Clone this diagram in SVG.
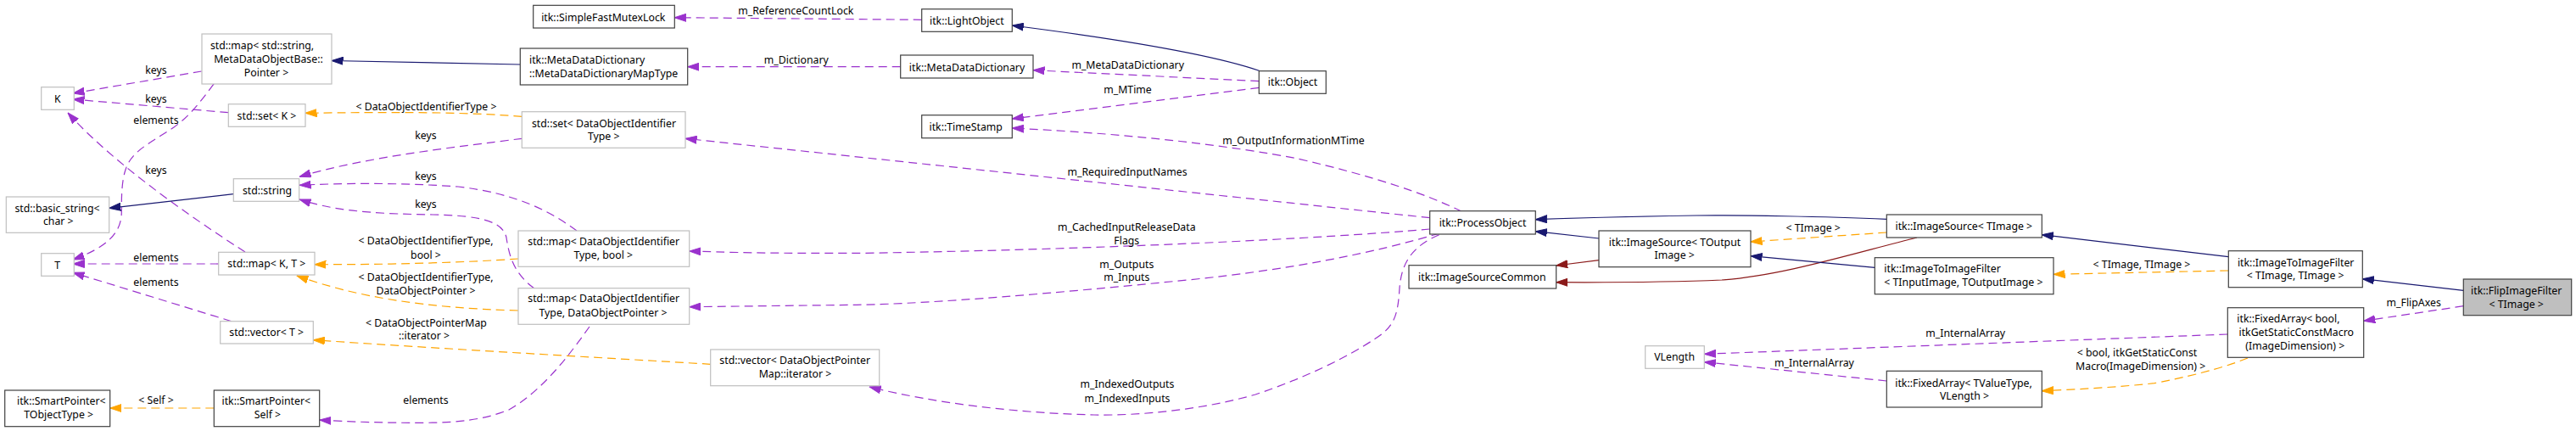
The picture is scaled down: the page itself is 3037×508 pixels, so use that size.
<svg xmlns="http://www.w3.org/2000/svg" width="3037" height="508" viewBox="0 0 3037 508">
<style>
text{font-family:"Noto Sans","DejaVu Sans",sans-serif;font-size:12.3px;fill:#000}
.c{text-anchor:middle}
.l{text-anchor:start}
.g{fill:#fff;stroke:#bfbfbf;stroke-width:1.2}
.d{fill:#fff;stroke:#404040;stroke-width:1.2}
.f{fill:#bfbfbf;stroke:#404040;stroke-width:1.2}
.e{fill:none;stroke-width:1.2}
.inh{stroke:#191970;marker-end:url(#aB)}
.red{stroke:#8b1a1a;marker-end:url(#aR)}
.use{stroke:#9a32cd;stroke-dasharray:10,6;marker-end:url(#aP)}
.tpl{stroke:#ffa500;stroke-dasharray:10,6;marker-end:url(#aO)}
</style>
<defs>
<marker id="aB" markerUnits="userSpaceOnUse" viewBox="0 0 14 10" markerWidth="14" markerHeight="10" refX="13.5" refY="5" orient="auto"><path d="M0,0.5 L13.5,5 L0,9.5 z" fill="#191970" stroke="#191970"/></marker>
<marker id="aR" markerUnits="userSpaceOnUse" viewBox="0 0 14 10" markerWidth="14" markerHeight="10" refX="13.5" refY="5" orient="auto"><path d="M0,0.5 L13.5,5 L0,9.5 z" fill="#8b1a1a" stroke="#8b1a1a"/></marker>
<marker id="aP" markerUnits="userSpaceOnUse" viewBox="0 0 14 10" markerWidth="14" markerHeight="10" refX="13.5" refY="5" orient="auto"><path d="M0,0.5 L13.5,5 L0,9.5 z" fill="#9a32cd" stroke="#9a32cd"/></marker>
<marker id="aO" markerUnits="userSpaceOnUse" viewBox="0 0 14 10" markerWidth="14" markerHeight="10" refX="13.5" refY="5" orient="auto"><path d="M0,0.5 L13.5,5 L0,9.5 z" fill="#ffa500" stroke="#ffa500"/></marker>
</defs>
<rect width="3037" height="508" fill="#fff"/>

<g id="edges">
<path class="e inh" d="M613,76 L391,71.5"/>
<path class="e use" d="M237.7,84 L86,110"/>
<text class="c" x="184" y="87">keys</text>
<path class="e use" d="M269.3,132.7 L86,117"/>
<text class="c" x="184" y="120.5">keys</text>
<path class="e use" d="M252.3,98.7 C235,122 222,138 205,150 C175,170 155,178 148,200 C143,215 143.3,235 143.3,250 C143.3,275 125,292 86,306"/>
<text class="c" x="184" y="145.5">elements</text>
<path class="e use" d="M289,297 C250,272 140,200 80,133"/>
<text class="c" x="184" y="204.5">keys</text>
<path class="e use" d="M257.7,311 L86,311"/>
<text class="c" x="184" y="307.8">elements</text>
<path class="e use" d="M273,378.7 L86,321.3"/>
<text class="c" x="184" y="336.8">elements</text>
<path class="e inh" d="M275.3,228.7 L128.7,245.3"/>
<path class="e tpl" d="M615.3,137.3 C560,133 500,131.5 360,133.3"/>
<text class="c" x="502.5" y="129.5">&lt; DataObjectIdentifierType &gt;</text>
<path class="e use" d="M615.3,163.3 C540,173 430,185 353,208.3"/>
<text class="c" x="502" y="163.8">keys</text>
<path class="e use" d="M680,272 C650,250 610,228 540,220 C470,215 400,216 353,218.3"/>
<text class="c" x="502" y="211.8">keys</text>
<path class="e use" d="M630,340 C605,322 600,300 597,280 C593,262 570,254 510,253 C430,252 390,247 353,235"/>
<text class="c" x="502" y="244.5">keys</text>
<path class="e tpl" d="M611,305 C540,310 450,312 371,311.7"/>
<text class="c" x="502" y="287.8">&lt; DataObjectIdentifierType,</text>
<text class="c" x="502" y="304.5">bool &gt;</text>
<path class="e tpl" d="M611,366 C500,363 420,350 350,325"/>
<text class="c" x="502" y="331.2">&lt; DataObjectIdentifierType,</text>
<text class="c" x="502" y="347.2">DataObjectPointer &gt;</text>
<path class="e tpl" d="M837.7,429.3 C700,421 520,411 369.3,400.7"/>
<text class="c" x="502.5" y="384.5">&lt; DataObjectPointerMap</text>
<text class="c" x="500" y="400.2">::iterator &gt;</text>
<path class="e tpl" d="M252.3,481 L129.7,481"/>
<text class="c" x="184" y="476.2">&lt; Self &gt;</text>
<path class="e use" d="M695,385 C670,420 640,460 600,483 C570,495 540,498 500,498.3 C450,498.5 410,497 376.7,495"/>
<text class="c" x="502" y="476.2">elements</text>
<path class="e use" d="M1086.7,23.3 L795.3,20.7"/>
<text class="c" x="938.3" y="17.2">m_ReferenceCountLock</text>
<path class="e use" d="M1061.7,78.7 L810.7,78.7"/>
<text class="c" x="938.8" y="75.2">m_Dictionary</text>
<path class="e inh" d="M1485,83.5 C1440,68 1350,50 1193.3,30"/>
<path class="e use" d="M1484.3,95.7 L1218,82.7"/>
<text class="c" x="1329.7" y="80.5">m_MetaDataDictionary</text>
<path class="e use" d="M1484.3,103.3 L1193.3,140"/>
<text class="c" x="1329.5" y="109.5">m_MTime</text>
<path class="e use" d="M1723.3,249.3 C1680,228 1620,208 1530,187 C1450,172 1340,158 1193.3,151"/>
<text class="c" x="1525" y="169.5">m_OutputInformationMTime</text>
<path class="e use" d="M1685.7,256.7 L808,163.3"/>
<text class="c" x="1329" y="207.2">m_RequiredInputNames</text>
<path class="e use" d="M1685.7,270 C1560,281 1300,294 1020,298.3 C900,299 850,297 812.7,296"/>
<text class="c" x="1328.3" y="272.2">m_CachedInputReleaseData</text>
<text class="c" x="1328.3" y="287.8">Flags</text>
<path class="e use" d="M1697,275 C1620,298 1520,318 1400,330 C1250,345 1100,358 1010,359.3 L812.7,361.7"/>
<text class="c" x="1328.3" y="315.5">m_Outputs</text>
<text class="c" x="1328.3" y="331.2">m_Inputs</text>
<path class="e use" d="M1696.7,276.7 C1665,290 1652,310 1650,340 C1648,370 1645,385 1620,400 C1590,420 1540,445 1480,465 C1420,482 1350,490 1290,489 C1200,487 1100,475 1025,456"/>
<text class="c" x="1329" y="457.2">m_IndexedOutputs</text>
<text class="c" x="1329" y="473.5">m_IndexedInputs</text>
<path class="e inh" d="M2224.3,258.3 C2150,255 2050,253.5 2000,254 C1920,255 1860,257 1810.3,258.7"/>
<path class="e inh" d="M1885,281 L1810.3,272.7"/>
<path class="e red" d="M1885,306.7 L1834.7,313"/>
<path class="e red" d="M2260,280 C2180,300 2100,325 2030,330 C1960,333 1900,333 1834.7,332.7"/>
<path class="e tpl" d="M2224.3,274 L2064,285"/>
<text class="c" x="2137.7" y="272.8">&lt; TImage &gt;</text>
<path class="e inh" d="M2210.3,315.3 L2064,301.7"/>
<path class="e inh" d="M2627.3,302.7 L2407.3,276.7"/>
<path class="e tpl" d="M2627.3,319 L2421,323.3"/>
<text class="c" x="2525" y="316.2">&lt; TImage, TImage &gt;</text>
<path class="e inh" d="M2904.3,342.3 L2785.3,328.7"/>
<path class="e use" d="M2904.3,360.7 L2786.7,378.3"/>
<text class="c" x="2845.7" y="361.2">m_FlipAxes</text>
<path class="e use" d="M2626.3,394 L2009.3,417.3"/>
<text class="c" x="2317.2" y="396.8">m_InternalArray</text>
<path class="e use" d="M2224.3,449 L2009.3,426.7"/>
<text class="c" x="2139" y="431.8">m_InternalArray</text>
<path class="e tpl" d="M2650,422 C2630,430 2600,440 2540,451.7 C2500,456 2450,459 2407.3,460.7"/>
<text class="c" x="2519.5" y="420.2">&lt; bool, itkGetStaticConst</text>
<text class="c" x="2523.7" y="436.2">Macro(ImageDimension) &gt;</text>
</g>

<g id="n_map_str_meta"><rect class="g" x="238" y="40" width="153" height="59"/>
<text class="c" x="309" y="58">std::map&lt; std::string,</text>
<text class="c" x="316.5" y="74">MetaDataObjectBase::</text>
<text class="c" x="314" y="89.5">Pointer &gt;</text></g>
<g id="n_K"><rect class="g" x="48.7" y="102.7" width="38.6" height="26.6"/>
<text class="c" x="67.8" y="120.5">K</text></g>
<g id="n_set_K"><rect class="g" x="269.3" y="122.7" width="90.7" height="26.6"/>
<text class="c" x="314.5" y="140.5">std::set&lt; K &gt;</text></g>
<g id="n_string"><rect class="g" x="275.3" y="210.7" width="77.4" height="26.6"/>
<text class="c" x="315" y="228.5">std::string</text></g>
<g id="n_basic_string"><rect class="g" x="7.3" y="232" width="121.4" height="42.3"/>
<text class="c" x="67.5" y="249.5">std::basic_string&lt;</text>
<text class="c" x="68.8" y="264.5">char &gt;</text></g>
<g id="n_T"><rect class="g" x="48.7" y="298.7" width="38.6" height="26.6"/>
<text class="c" x="67.7" y="316.5">T</text></g>
<g id="n_map_KT"><rect class="g" x="257.7" y="297.3" width="113.3" height="26.7"/>
<text class="c" x="314.3" y="315">std::map&lt; K, T &gt;</text></g>
<g id="n_vector_T"><rect class="g" x="259.7" y="378.7" width="109.6" height="26.3"/>
<text class="c" x="314.2" y="396">std::vector&lt; T &gt;</text></g>
<g id="n_sp_tobj"><rect class="d" x="5.7" y="460" width="124" height="42.7"/>
<text class="c" x="72.3" y="477">itk::SmartPointer&lt;</text>
<text class="c" x="69.2" y="493">TObjectType &gt;</text></g>
<g id="n_sp_self"><rect class="d" x="252.3" y="460" width="124.4" height="42.7"/>
<text class="c" x="313.8" y="477">itk::SmartPointer&lt;</text>
<text class="c" x="315.5" y="493">Self &gt;</text></g>
<g id="n_mutex"><rect class="d" x="628.7" y="6.3" width="166.6" height="26.7"/>
<text class="c" x="711.3" y="24.5">itk::SimpleFastMutexLock</text></g>
<g id="n_mdd_maptype"><rect class="d" x="613.3" y="57" width="197.4" height="43"/>
<text class="l" x="624" y="75">itk::MetaDataDictionary</text>
<text class="l" x="624" y="91">::MetaDataDictionaryMapType</text></g>
<g id="n_set_doit"><rect class="g" x="615.3" y="131.7" width="192.7" height="42.6"/>
<text class="c" x="712" y="149.5">std::set&lt; DataObjectIdentifier</text>
<text class="c" x="711.7" y="165">Type &gt;</text></g>
<g id="n_map_doit_bool"><rect class="g" x="611" y="272" width="201.7" height="42.3"/>
<text class="c" x="711.7" y="288.8">std::map&lt; DataObjectIdentifier</text>
<text class="c" x="711.3" y="304.5">Type, bool &gt;</text></g>
<g id="n_map_doit_dop"><rect class="g" x="611" y="339.7" width="201.7" height="42.6"/>
<text class="c" x="711.7" y="356">std::map&lt; DataObjectIdentifier</text>
<text class="c" x="711" y="372.5">Type, DataObjectPointer &gt;</text></g>
<g id="n_vec_dopm"><rect class="g" x="837.7" y="412" width="199" height="42.7"/>
<text class="c" x="937.2" y="428.8">std::vector&lt; DataObjectPointer</text>
<text class="c" x="937.5" y="445">Map::iterator &gt;</text></g>
<g id="n_lightobj"><rect class="d" x="1086.7" y="10.7" width="106.6" height="26.6"/>
<text class="c" x="1139.8" y="28.5">itk::LightObject</text></g>
<g id="n_mdd"><rect class="d" x="1061.7" y="65" width="156.3" height="27"/>
<text class="c" x="1140" y="83.5">itk::MetaDataDictionary</text></g>
<g id="n_object"><rect class="d" x="1484.3" y="83.7" width="79" height="26.6"/>
<text class="c" x="1524" y="101">itk::Object</text></g>
<g id="n_timestamp"><rect class="d" x="1086.7" y="135.7" width="106.6" height="27"/>
<text class="c" x="1138.7" y="153.5">itk::TimeStamp</text></g>
<g id="n_processobj"><rect class="d" x="1685.7" y="248.7" width="124.6" height="27.3"/>
<text class="c" x="1748" y="267">itk::ProcessObject</text></g>
<g id="n_isc"><rect class="d" x="1661" y="312.7" width="173.7" height="27.3"/>
<text class="c" x="1747.3" y="331">itk::ImageSourceCommon</text></g>
<g id="n_is_tout"><rect class="d" x="1885" y="272" width="179" height="42.7"/>
<text class="c" x="1974.5" y="289.5">itk::ImageSource&lt; TOutput</text>
<text class="c" x="1974.2" y="305">Image &gt;</text></g>
<g id="n_is_timg"><rect class="d" x="2224.3" y="253" width="183" height="27"/>
<text class="c" x="2315.3" y="271">itk::ImageSource&lt; TImage &gt;</text></g>
<g id="n_i2i_inout"><rect class="d" x="2210.3" y="303.7" width="210.7" height="43"/>
<text class="l" x="2221.3" y="321">itk::ImageToImageFilter</text>
<text class="l" x="2221.3" y="337">&lt; TInputImage, TOutputImage &gt;</text></g>
<g id="n_fa_tv"><rect class="d" x="2224.3" y="437.3" width="183" height="42.7"/>
<text class="c" x="2315" y="455.5">itk::FixedArray&lt; TValueType,</text>
<text class="c" x="2316" y="471">VLength &gt;</text></g>
<g id="n_i2i_timg"><rect class="d" x="2627.3" y="295.7" width="158" height="43"/>
<text class="c" x="2706.7" y="313.5">itk::ImageToImageFilter</text>
<text class="c" x="2706.2" y="329">&lt; TImage, TImage &gt;</text></g>
<g id="n_fa_bool"><rect class="d" x="2626.3" y="362.7" width="160.4" height="58.6"/>
<text class="l" x="2637.3" y="380">itk::FixedArray&lt; bool,</text>
<text class="c" x="2707.2" y="396">itkGetStaticConstMacro</text>
<text class="c" x="2705.8" y="411.8">(ImageDimension) &gt;</text></g>
<g id="n_flip"><rect class="f" x="2904.3" y="329" width="127.4" height="42.7"/>
<text class="c" x="2966.7" y="346.8">itk::FlipImageFilter</text>
<text class="c" x="2966.7" y="362.8">&lt; TImage &gt;</text></g>
<g id="n_vlength"><rect class="g" x="1939.7" y="407.7" width="69.6" height="26.6"/>
<text class="c" x="1974.2" y="425">VLength</text></g>
</svg>
